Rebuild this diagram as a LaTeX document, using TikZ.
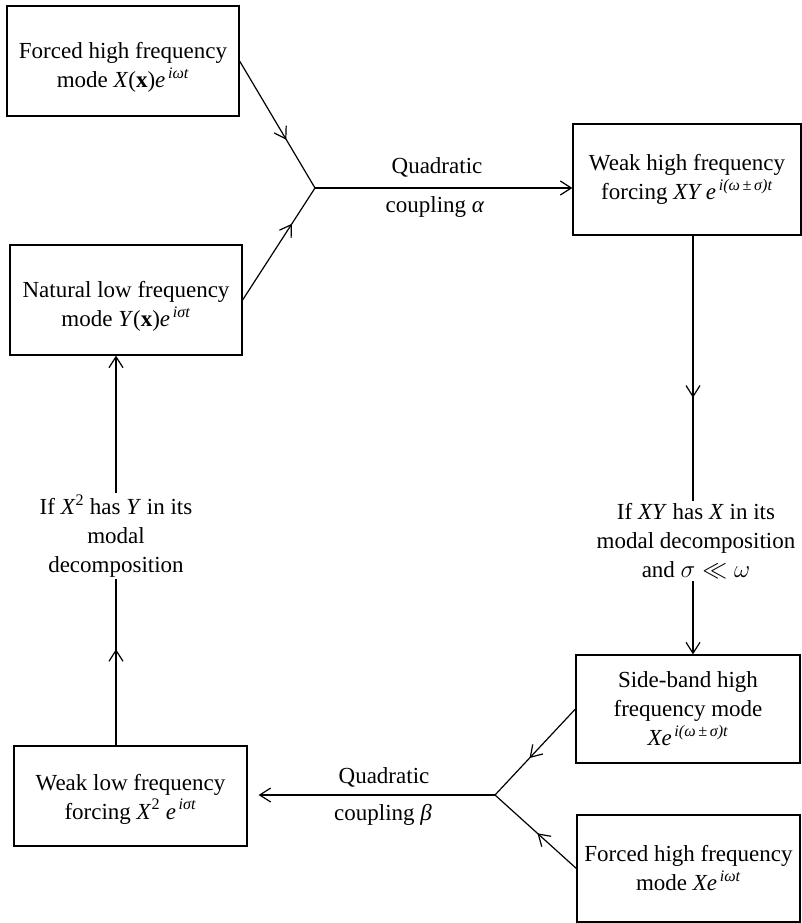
\documentclass[tikz,border=0pt]{standalone}
\usepackage{fontspec}
\setmainfont{Liberation Serif}
\usetikzlibrary{arrows.meta,decorations.markings}
\newcommand\mi[1]{\textit{#1}}
\newcommand\expo[1]{\textsuperscript{\,\textit{#1}}}
\begin{document}
\begin{tikzpicture}[x=1pt,y=-1pt,
  every node/.style={font=\fontsize{23}{29}\selectfont},
  box/.style={draw, line width=1.2pt, align=center, inner sep=0pt},
  lab/.style={align=center, inner sep=2pt},
  conn/.style={line width=1.2pt},
  tip/.style={-{Straight Barb[length=11pt,width=14pt,line width=1.2pt]}},
  midarr/.style={postaction={decorate}, decoration={markings, mark=at position #1 with {\arrow{Straight Barb[length=11pt,width=14pt,line width=1.2pt]}}}}
]
\useasboundingbox (0,0) rectangle (802,923);

\node[box, minimum width=232pt, minimum height=110pt] (box1) at (123,61)
  {\rule{0pt}{28pt}Forced high frequency\\ mode \mi{X}(\textbf{x})\mi{e}\expo{iωt}};
\node[box, minimum width=232pt, minimum height=110pt] (box2) at (126,300)
  {\rule{0pt}{28pt}Natural low frequency\\ mode \mi{Y}(\textbf{x})\mi{e}\expo{iσt}};
\node[box, minimum width=228pt, minimum height=111pt] (box3) at (687,179.5)
  {Weak high frequency\\ forcing \mi{XY e}\expo{i(ω\,±\,σ)t}};
\node[box, minimum width=224pt, minimum height=108pt] (box4) at (688,709)
  {Side-band high\\ frequency mode\\ \mi{Xe}\expo{i(ω\,±\,σ)t}};
\node[box, minimum width=223pt, minimum height=107pt] (box5) at (688.5,868.5)
  {Forced high frequency\\ mode \mi{Xe}\expo{iωt}};
\node[box, minimum width=233pt, minimum height=100pt] (box6) at (130.5,796)
  {\rule{0pt}{22pt}Weak low frequency\\ forcing \mi{X}\textsuperscript{2} \mi{e}\expo{iσt}};

\node[lab] (q1) at (437,167) {Quadratic};
\node[lab] (c1) at (435,207) {coupling \mi{α}};
\node[lab] (q2) at (384,777) {Quadratic};
\node[lab] (c2) at (383,815) {coupling \mi{β}};

\node[lab] (r2) at (696,541) {If \mi{XY} has \mi{X} in its\\ modal decomposition\\ and $\sigma\ll\omega$};
\node[lab] (l2) at (116,536) {If \mi{X}\textsuperscript{2} has \mi{Y} in its\\ modal\\ decomposition};

\coordinate (j1) at (315,188);
\coordinate (j2) at (495,795);

\draw[conn, midarr=0.62] (box1.east) -- (j1);
\draw[conn, midarr=0.68] (box2.east) -- (j1);
\draw[conn, tip] (j1) -- (box3.west |- j1);

\draw[conn, midarr=0.61] ([xshift=6pt]box3.south) -- ([xshift=6pt]box3.south |- r2.north);
\draw[conn, tip] ([xshift=6pt]box3.south |- r2.south) -- ([xshift=6pt]box3.south |- box4.north);

\draw[conn, midarr=0.57] (box4.west) -- (j2);
\draw[conn, midarr=0.48] (box5.west) -- (j2);
\draw[conn, tip] (j2) -- ([xshift=11pt]box6.east |- j2);

\draw[conn, midarr=0.58] (l2 |- box6.north) -- (l2.south);
\draw[conn, tip] (l2.north) -- (l2 |- box2.south);
\end{tikzpicture}
\end{document}
